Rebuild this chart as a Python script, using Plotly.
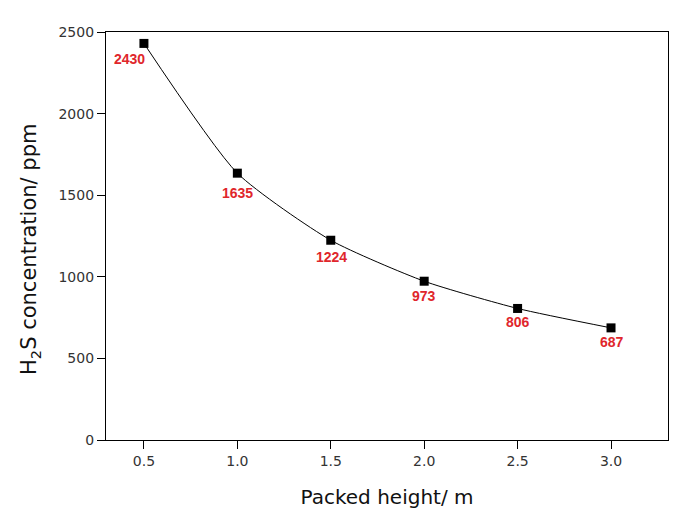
import plotly.graph_objects as go

heights = [0.5, 1.0, 1.5, 2.0, 2.5, 3.0]
h2s_ppm = [2430, 1635, 1224, 973, 806, 687]
labels = ["2430", "1635", "1224", "973", "806", "687"]

# label offsets in pixels (style, not data)
label_dx = [-14, 0, 1, 0, 0, 1]
label_dy = [-16, -20, -17, -15, -14, -14]

fig = go.Figure()
fig.add_trace(go.Scatter(
    x=heights, y=h2s_ppm, mode="lines+markers",
    line=dict(color="black", width=1, shape="spline", smoothing=0.6),
    marker=dict(symbol="square", size=9, color="black"),
    hoverinfo="skip", showlegend=False,
))
for xv, yv, t, dx, dy in zip(heights, h2s_ppm, labels, label_dx, label_dy):
    fig.add_annotation(
        x=xv, y=yv, text=t, showarrow=False, xshift=dx, yshift=dy,
        font=dict(color="#e0262b", size=14, family="Liberation Sans, Arial", weight="bold"),
    )

tickfont = dict(family="DejaVu Sans", size=14, color="#333333")
titlefont = dict(family="DejaVu Sans", size=20, color="#111111")
axis_common = dict(
    showline=True, linecolor="black", linewidth=1.2, mirror=True,
    ticks="outside", ticklen=8, tickcolor="black", tickwidth=1,
    showgrid=False, zeroline=False, tickfont=tickfont, automargin=False,
)
fig.update_xaxes(range=[0.297, 3.305], tickvals=heights, ticktext=["0.5", "1.0", "1.5", "2.0", "2.5", "3.0"],
                 title=dict(text="Packed height/ m", font=titlefont, standoff=22),
                 **axis_common)
fig.update_yaxes(range=[0, 2500], tickvals=[0, 500, 1000, 1500, 2000, 2500], **axis_common)
fig.add_annotation(
    text="H<sub>2</sub>S concentration/ ppm", xref="paper", yref="paper",
    x=-0.135, y=0.466, xanchor="center", yanchor="middle", textangle=-90, showarrow=False,
    font=dict(titlefont, size=21),
)
fig.update_layout(
    width=686, height=510, margin=dict(l=106, r=18, t=32, b=70),
    plot_bgcolor="white", paper_bgcolor="white",
)
fig.write_html("out.html")
